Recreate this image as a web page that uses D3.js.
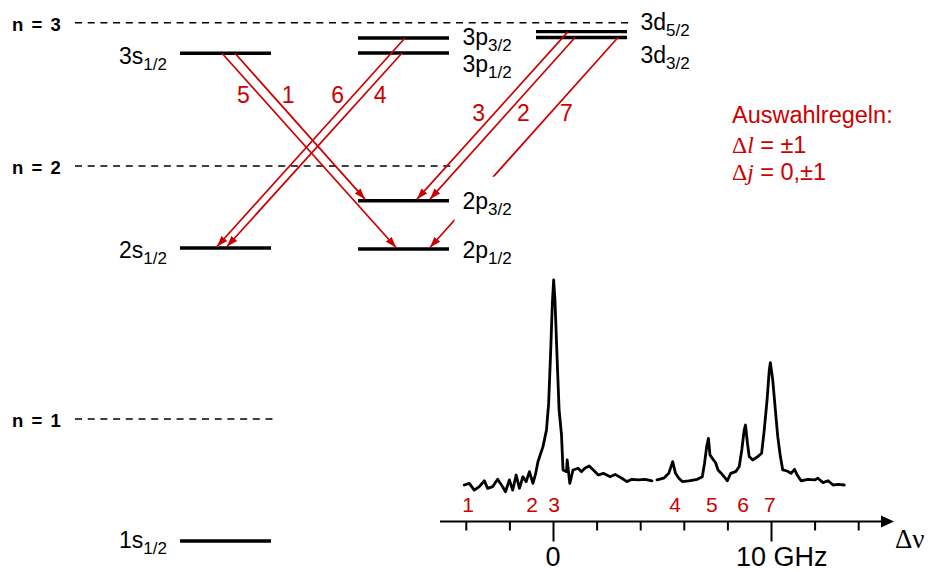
<!DOCTYPE html>
<html><head><meta charset="utf-8">
<script src="https://cdn.jsdelivr.net/npm/d3@7"></script>
<style>html,body{margin:0;padding:0;background:#fff;} svg{display:block;font-family:"Liberation Sans",Arial,sans-serif;}</style>
</head><body>
<svg id="chart" width="930" height="572"></svg>
<script>
// ---------- data ----------
// shells (principal quantum number), energy in arbitrary diagram units
const shellNames  = ["n = 3", "n = 2", "n = 1"];
const shellEnergy = [100, 72.35, 23.54];
const shellMaxL   = [2, 1, 0];

// fine-structure levels
const levelNames  = ["3s", "3p", "3p", "3d", "3d", "2s", "2p", "2p", "1s"];
const levelJ      = ["1/2", "3/2", "1/2", "5/2", "3/2", "1/2", "3/2", "1/2", "1/2"];
const levelL      = [0, 1, 1, 2, 2, 0, 1, 1, 0];
const levelEnergy = [94.1, 97.05, 94.15, 98.27, 97.14, 56.53, 65.66, 56.34, 0];

// transitions (index into levels)
const transNumber = [1, 2, 3, 4, 5, 6, 7];
const transFrom   = [0, 4, 3, 2, 0, 1, 4];
const transTo     = [6, 6, 6, 5, 7, 5, 7];
const transFromPos = [0.604, 0.429, 0.352, 0.484, 0.462, 0.516, 0.901];
const transToPos   = [0.077, 0.791, 0.648, 0.516, 0.418, 0.407, 0.791];

// spectrum: frequency offset (GHz) and intensity (arb. units)
const specFreq = [-4.07,-3.84,-3.61,-3.38,-3.15,-3.00,-2.77,-2.54,-2.31,-2.18,-2.00,-1.85,-1.69,-1.54,-1.38,-1.23,-1.08,-0.92,-0.80,-0.69,-0.46,-0.30,-0.20,-0.11,-0.03,0.03,0.09,0.18,0.28,0.39,0.46,0.62,0.65,0.77,0.92,1.15,1.31,1.46,1.66,1.85,2.08,2.31,2.62,2.85,3.16,3.39,3.62,3.92,4.23,4.54,4.65,4.77,5.08,5.31,5.49,5.62,5.77,5.93,6.23,6.62,6.85,6.95,7.05,7.13,7.20,7.36,7.46,7.57,7.69,7.85,8.00,8.15,8.38,8.54,8.66,8.77,8.83,8.92,9.00,9.16,9.39,9.57,9.69,9.82,9.92,9.97,10.08,10.20,10.31,10.43,10.54,10.74,10.92,11.08,11.20,11.38,11.69,12.00,12.15,12.39,12.62,12.85,13.11,13.36];
const specInt  = [3.3,4.1,0.9,2.5,5.3,1.7,2.5,6.0,2.5,0.1,5.7,0.9,8.0,1.7,7.2,4.9,9.6,4.1,8.5,14.3,21.4,29.2,41.8,65.4,89.0,100,90.6,65.4,38.7,26.9,10.4,9.6,15.1,4.1,10.4,11.2,9.6,11.2,12.3,10.4,8.0,8.8,7.2,8.3,6.5,4.9,6.0,5.7,6.0,5.3,null,5.7,6.5,8.8,14.3,8.8,6.5,4.9,5.3,6.0,7.2,13.5,21.4,25.3,17.5,15.1,13.8,10.4,9.1,7.2,5.3,8.8,9.6,11.9,19.8,29.2,31.6,23.0,16.7,15.1,16.7,18.3,29.2,43.4,57.5,61.0,52.8,38.7,26.1,16.7,10.4,9.9,8.8,10.7,8.0,5.3,6.0,5.7,6.5,4.4,5.3,3.3,3.6,3.3];

// component positions on the frequency axis
const compLabels = ["1", "2", "3", "4", "5", "6", "7"];
const compFreq   = [-3.9, -0.96, 0.05, 5.6, 7.29, 8.72, 9.95];

// axis ticks
const tickValues = [-4, -2, 0, 2, 4, 6, 8, 10, 12, 14];
const tickLabels = [{v: 0, t: "0"}, {v: 10, t: "10 GHz"}];

// selection rules text
const rulesTitle = "Auswahlregeln:";

// ---------- layout ----------
const RED = "#cc0000";
const svg = d3.select("#chart");
const yE = d3.scaleLinear().domain([0, 100]).range([541, 22.7]);
const colX = d3.scaleLinear().domain([0, 2]).range([180, 536]);
const LW = 91;
const labelDy = [10.7, 7, 18.7, -1.7, 25.5, 10, 8.3, 9.3, 7.3];

svg.append("defs").append("marker")
  .attr("id", "ah").attr("viewBox", "0 -5 12 10").attr("refX", 11).attr("refY", 0)
  .attr("markerWidth", 12).attr("markerHeight", 10).attr("markerUnits", "userSpaceOnUse")
  .attr("orient", "auto")
  .append("path").attr("d", "M0,-3.8L11,0L0,3.8Z").attr("fill", RED);

// shells
const shells = shellNames.map((n, i) => ({n, e: shellEnergy[i], l: shellMaxL[i]}));
svg.selectAll("line.shell").data(shells).join("line")
  .attr("x1", 75).attr("x2", d => colX(d.l) + LW + 5)
  .attr("y1", d => yE(d.e)).attr("y2", d => yE(d.e))
  .attr("stroke", "#000").attr("stroke-width", 1.6).attr("stroke-dasharray", "7,5.7");
svg.selectAll("text.shell").data(shells).join("text")
  .attr("x", 12).attr("y", d => yE(d.e) + 8)
  .style("font-weight", "bold").style("font-size", "18.5px").style("word-spacing", "3px")
  .text(d => d.n);

// levels
const levels = levelNames.map((n, i) => ({n, j: levelJ[i], l: levelL[i], e: levelEnergy[i], dy: labelDy[i]}));
svg.selectAll("line.level").data(levels).join("line")
  .attr("x1", d => colX(d.l)).attr("x2", d => colX(d.l) + LW)
  .attr("y1", d => yE(d.e)).attr("y2", d => yE(d.e))
  .attr("stroke", "#000").attr("stroke-width", 3.4);

// transitions
const trans = transNumber.map((k, i) => {
  const a = levels[transFrom[i]], b = levels[transTo[i]];
  return {k, x1: colX(a.l) + LW * transFromPos[i], y1: yE(a.e),
          x2: colX(b.l) + LW * transToPos[i], y2: yE(b.e) - 1.5};
});
svg.selectAll("line.tr").data(trans).join("line")
  .attr("x1", d => d.x1).attr("y1", d => d.y1).attr("x2", d => d.x2).attr("y2", d => d.y2)
  .attr("stroke", RED).attr("stroke-width", 1.7).attr("marker-end", "url(#ah)");

const trLabelY = {1: 95, 2: 113, 3: 113, 4: 95, 5: 95, 6: 95, 7: 113};
const trSide   = {1: 1, 2: 1, 3: -1, 4: 1, 5: -1, 6: -1, 7: 1};
svg.selectAll("text.tr").data(trans).join("text")
  .attr("x", d => {
    const y = trLabelY[d.k];
    const x = d.x1 + (d.x2 - d.x1) * (y - d.y1) / (d.y2 - d.y1);
    return x + trSide[d.k] * 16;
  })
  .attr("y", d => trLabelY[d.k] + 8)
  .attr("text-anchor", "middle").attr("fill", RED).style("font-size", "23px")
  .text(d => d.k);

// level labels (white backing where a label interrupts a transition line)
levels.forEach((d, i) => {
  const left = d.l === 0;
  const x = left ? colX(d.l) - 13 : colX(d.l) + LW + 13.5;
  const y = yE(d.e) + d.dy;
  if (i === 6) {
    svg.append("rect").attr("x", x - 8).attr("y", yE(d.e) - 24).attr("width", 70).attr("height", 45).attr("fill", "#fff");
  }
  const t = svg.append("text").attr("x", x).attr("y", y)
    .attr("text-anchor", left ? "end" : "start").style("font-size", "23px");
  t.append("tspan").text(d.n);
  t.append("tspan").attr("dy", 6).style("font-size", "17px").text(d.j);
});

// selection rules
const rules = svg.append("g").attr("fill", RED);
rules.append("text").attr("x", 732).attr("y", 123).style("font-size", "23.5px").text(rulesTitle);
const r1 = rules.append("text").attr("x", 732).attr("y", 153).style("font-size", "23.5px");
r1.append("tspan").style("font-family", "'Liberation Serif',serif").text("Δ");
r1.append("tspan").style("font-family", "'Liberation Serif',serif").style("font-style", "italic").text("l");
r1.append("tspan").text(" = ±1");
const r2 = rules.append("text").attr("x", 732).attr("y", 180).style("font-size", "23.5px");
r2.append("tspan").style("font-family", "'Liberation Serif',serif").text("Δ");
r2.append("tspan").style("font-family", "'Liberation Serif',serif").style("font-style", "italic").text("j");
r2.append("tspan").text(" = 0,±1");

// ---------- spectrum ----------
const xF = d3.scaleLinear().domain([0, 10]).range([553, 771]);
const yI = d3.scaleLinear().domain([0, 100]).range([492, 280]);
const spec = specFreq.map((f, i) => ({f, v: specInt[i]}));
svg.append("path").datum(spec)
  .attr("d", d3.line().defined(d => d.v != null).x(d => xF(d.f)).y(d => yI(d.v)))
  .attr("fill", "none").attr("stroke", "#000").attr("stroke-width", 2.8)
  .attr("stroke-linejoin", "round").attr("stroke-linecap", "round");

const axisY = 521.5;
svg.append("line").attr("x1", 440).attr("x2", 884).attr("y1", axisY).attr("y2", axisY)
  .attr("stroke", "#000").attr("stroke-width", 2.2);
svg.append("path").attr("d", `M881,${axisY - 6}L894,${axisY}L881,${axisY + 6}Z`).attr("fill", "#000");
const ax = svg.append("g").attr("transform", `translate(0,${axisY})`)
  .call(d3.axisBottom(xF).tickValues(tickValues).tickSize(9).tickFormat(""));
ax.select(".domain").remove();
ax.selectAll(".tick line").attr("stroke", "#000").attr("stroke-width", 2)
  .attr("y2", d => d % 10 === 0 ? 20 : 9);

svg.selectAll("text.tl").data(tickLabels).join("text")
  .attr("x", d => d.v === 0 ? xF(d.v) : xF(d.v) - 35)
  .attr("y", 566).attr("text-anchor", d => d.v === 0 ? "middle" : "start")
  .style("font-size", "27px").text(d => d.t);

svg.append("text").attr("x", 895).attr("y", 548)
  .style("font-family", "'Liberation Serif',serif").style("font-size", "27px").text("Δν");

svg.selectAll("text.comp").data(compLabels).join("text")
  .attr("x", (d, i) => xF(compFreq[i])).attr("y", 511.5)
  .attr("text-anchor", "middle").attr("fill", RED).style("font-size", "21px")
  .text(d => d);
</script>
</body></html>
